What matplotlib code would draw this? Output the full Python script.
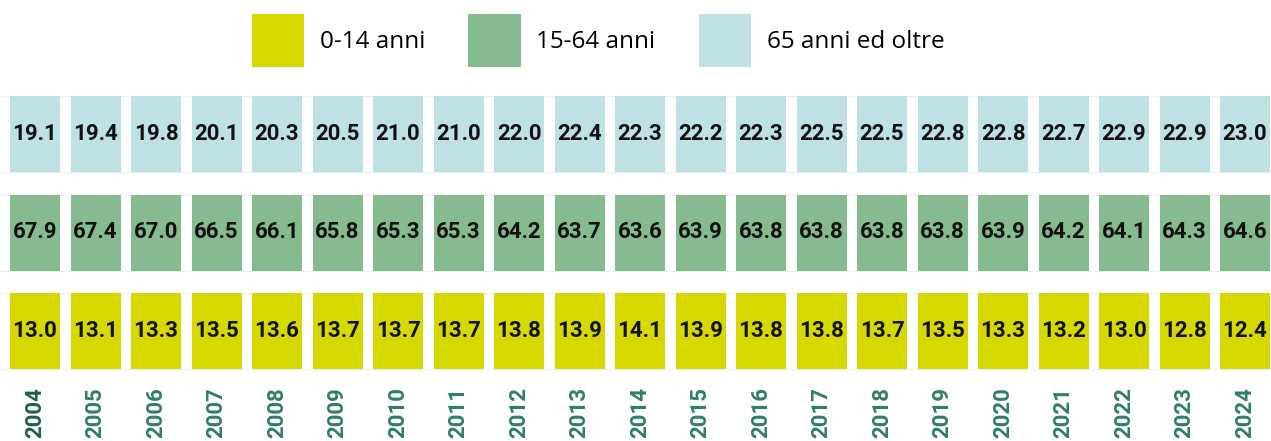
import numpy as np
import matplotlib
matplotlib.use("Agg")
import matplotlib.pyplot as plt
from matplotlib.patches import Patch

# population share by age band (%)
years = [str(y) for y in range(2004, 2025)]
age_0_14 = [13.0, 13.1, 13.3, 13.5, 13.6, 13.7, 13.7, 13.7, 13.8, 13.9, 14.1,
            13.9, 13.8, 13.8, 13.7, 13.5, 13.3, 13.2, 13.0, 12.8, 12.4]
age_15_64 = [67.9, 67.4, 67.0, 66.5, 66.1, 65.8, 65.3, 65.3, 64.2, 63.7, 63.6,
             63.9, 63.8, 63.8, 63.8, 63.8, 63.9, 64.2, 64.1, 64.3, 64.6]
age_65 = [19.1, 19.4, 19.8, 20.1, 20.3, 20.5, 21.0, 21.0, 22.0, 22.4, 22.3,
          22.2, 22.3, 22.5, 22.5, 22.8, 22.8, 22.7, 22.9, 22.9, 23.0]
labels = ["0-14 anni", "15-64 anni", "65 anni ed oltre"]
colors = ["#d5d900", "#86bb91", "#bfe1e3"]

W, H = 1271, 441
fig = plt.figure(figsize=(W / 100, H / 100), dpi=100)
ax = fig.add_axes([0, 0, 1, 1])

pitch_x = 60.5
pitch_y = 98.5
x0, y0 = 35, 134  # pixel centre of first column / top row
ax.set_xlim(-x0 / pitch_x, (W - x0) / pitch_x)
ax.set_ylim((H - y0) / pitch_y, -y0 / pitch_y)
ax.axis("off")

x = np.arange(len(years))
rows = [age_65, age_15_64, age_0_14]
row_colors = [colors[2], colors[1], colors[0]]
cell_w = 50 / pitch_x
cell_h = 76 / pitch_y

for r, (vals, c) in enumerate(zip(rows, row_colors)):
    ax.bar(x, cell_h, bottom=r - cell_h / 2, width=cell_w, color=c,
           linewidth=0)
    for edge in (r - cell_h / 2, r + cell_h / 2):
        ax.axhline(edge, color="#e6f1f1", lw=0.8, zorder=0)
    for xi, v in zip(x, vals):
        ax.text(xi, r, f"{v:.1f}", ha="center", va="center",
                fontsize=16, fontweight="bold", family="Roboto",
                color="#111111")

# year labels along the bottom
for xi, yr in zip(x, years):
    col = "#1f5f50" if yr == "2004" else "#2f7d6a"
    ax.text(xi, (387 - y0) / pitch_y, yr, rotation=90, ha="center", va="top",
            fontsize=16, fontweight="bold", family="Roboto", color=col)

handles = [Patch(facecolor=c, edgecolor="none") for c in colors]
fig.legend(handles, labels, loc="center", bbox_to_anchor=(0.4705, 0.908),
           ncol=3, frameon=False, prop={"family": "Open Sans", "size": 17.5},
           handlelength=2.15, handleheight=2.93, handletextpad=0.65,
           columnspacing=1.78)

fig.savefig("out.png", dpi=100)
